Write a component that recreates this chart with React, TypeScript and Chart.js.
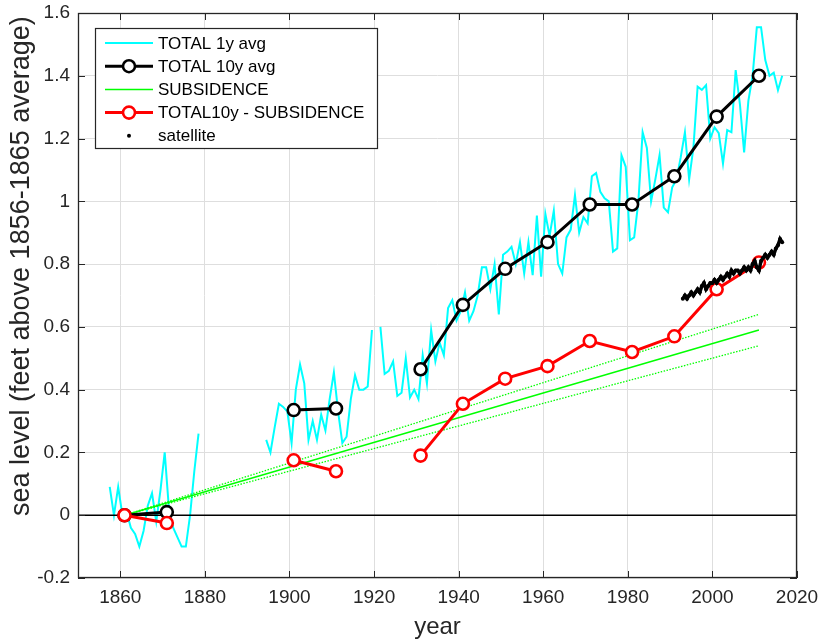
import React, { useEffect, useRef } from "react";
import { Chart, registerables } from "chart.js";

Chart.register(...registerables);

// ---------- DATA ----------
const xTickValues = [1860, 1880, 1900, 1920, 1940, 1960, 1980, 2000, 2020];
const yTickValues = [-0.2, 0, 0.2, 0.4, 0.6, 0.8, 1.0, 1.2, 1.4, 1.6];

// TOTAL 1y avg (annual means, plotted at mid-year)
const annual1Start = 1857;
const annual1 = [
  0.09, 0.0, 0.09, 0.0, 0.01, -0.04, -0.06, -0.1, -0.05, 0.03, 0.07, -0.02,
  0.08, 0.2, 0.02, -0.04, -0.07, -0.1, -0.1, 0.0, 0.14, 0.26,
];
const annual2Start = 1894;
const annual2 = [
  0.24, 0.2, 0.28, 0.355, 0.345, 0.33, 0.23, 0.4, 0.48, 0.42, 0.24, 0.3, 0.24,
  0.32, 0.27, 0.37, 0.455, 0.33, 0.23, 0.25, 0.37, 0.446, 0.4, 0.4, 0.41, 0.59,
];
const annual3Start = 1921;
const annual3 = [
  0.6, 0.45, 0.46, 0.49, 0.38, 0.39, 0.5, 0.375, 0.4, 0.37, 0.51, 0.42, 0.59,
  0.49, 0.55, 0.51, 0.66, 0.685, 0.62, 0.65, 0.71, 0.62, 0.65, 0.7, 0.79, 0.79,
  0.72, 0.8, 0.64, 0.83, 0.84, 0.855, 0.8, 0.87, 0.77, 0.87, 0.765, 0.955, 0.76,
  0.96, 0.89, 0.97, 0.8, 0.77, 0.885, 0.91, 1.02, 0.9, 0.95, 0.93, 1.08, 1.09,
  1.03, 1.01, 1.0, 0.84, 0.85, 1.147, 1.11, 0.876, 0.885, 1.0, 1.22, 1.17, 1.0,
  1.07, 1.147, 0.98, 0.965, 1.045, 1.07, 1.14, 1.22, 1.07, 1.17, 1.365, 1.355,
  1.37, 1.2, 1.236, 1.217, 1.12, 1.227, 1.22, 1.418, 1.31, 1.156, 1.32, 1.4,
  1.555, 1.555, 1.45, 1.4, 1.41, 1.354, 1.4,
];

// TOTAL 10y avg
const decadeYears1 = [1861, 1871];
const decadeYears2 = [1901, 1911];
const decadeYears3 = [1931, 1941, 1951, 1961, 1971, 1981, 1991, 2001, 2011];
const total10y1 = [0.0, 0.01];
const total10y2 = [0.335, 0.34];
const total10y3 = [0.465, 0.67, 0.785, 0.87, 0.99, 0.99, 1.08, 1.27, 1.4];

// TOTAL10y - SUBSIDENCE
const minusSub1 = [0.0, -0.025];
const minusSub2 = [0.175, 0.14];
const minusSub3 = [0.19, 0.355, 0.435, 0.475, 0.555, 0.52, 0.57, 0.72, 0.805];

// SUBSIDENCE trend and its bounds
const subsidenceYears = [1861, 2011];
const subsidence = [0.0, 0.59];
const subsidenceUpper = [0.0, 0.64];
const subsidenceLower = [0.0, 0.54];

// satellite (half-year samples)
const satelliteStart = 1993;
const satelliteStep = 0.5;
const satellite = [
  0.69, 0.7, 0.69, 0.7, 0.71, 0.7, 0.71, 0.72, 0.71, 0.73, 0.74, 0.72, 0.73,
  0.74, 0.74, 0.75, 0.74, 0.75, 0.76, 0.75, 0.76, 0.77, 0.76, 0.78, 0.77, 0.78,
  0.78, 0.77, 0.78, 0.79, 0.78, 0.79, 0.78, 0.8, 0.81, 0.79, 0.78, 0.81, 0.82,
  0.83, 0.82, 0.83, 0.84, 0.83, 0.85, 0.86, 0.88, 0.87,
];

const zeroLineYears = [1850, 2020];
const zeroLine = [0, 0];

const legendLabels = [
  "TOTAL 1y avg",
  "TOTAL 10y avg",
  "SUBSIDENCE",
  "TOTAL10y - SUBSIDENCE",
  "satellite",
];
const yTitle = "sea level (feet above 1856-1865 average)";
const xTitle = "year";

// ---------- helpers ----------
type P = { x: number; y: number | null };
const seg = (xs: number[], ys: number[]): P[] => xs.map((x, i) => ({ x, y: ys[i] }));
const annualSeg = (start: number, vals: number[]): P[] =>
  vals.map((v, i) => ({ x: start + i + 0.5, y: v }));
const joinSegs = (...segs: P[][]): P[] => {
  const out: P[] = [];
  segs.forEach((s, k) => {
    if (k > 0) {
      const prev = out[out.length - 1].x;
      out.push({ x: (prev + s[0].x) / 2, y: null });
    }
    out.push(...s);
  });
  return out;
};

const FONT = "'Liberation Sans', Arial, Helvetica, sans-serif";
const AXIS_COLOR = "#262626";

const boxPlugin = {
  id: "matlabBox",
  afterDatasetsDraw(chart: any) {
    const { ctx, chartArea: a, scales } = chart;
    ctx.save();
    ctx.strokeStyle = AXIS_COLOR;
    ctx.lineWidth = 1;
    const tl = 7;
    ctx.beginPath();
    scales.x.ticks.forEach((t: any) => {
      const px = Math.round(scales.x.getPixelForValue(t.value)) + 0.5;
      ctx.moveTo(px, a.bottom);
      ctx.lineTo(px, a.bottom - tl);
      ctx.moveTo(px, a.top);
      ctx.lineTo(px, a.top + tl);
    });
    scales.y.ticks.forEach((t: any) => {
      const py = Math.round(scales.y.getPixelForValue(t.value)) + 0.5;
      ctx.moveTo(a.left, py);
      ctx.lineTo(a.left + tl, py);
      ctx.moveTo(a.right, py);
      ctx.lineTo(a.right - tl, py);
    });
    ctx.stroke();
    ctx.lineWidth = 1.3;
    ctx.strokeRect(a.left + 0.5, a.top + 0.5, a.right - a.left - 1, a.bottom - a.top - 1);

    // y-axis title
    ctx.fillStyle = AXIS_COLOR;
    ctx.font = `27px ${FONT}`;
    ctx.textAlign = "center";
    ctx.textBaseline = "middle";
    ctx.translate(22, a.top + (a.bottom - a.top) * 0.448);
    ctx.rotate(-Math.PI / 2);
    ctx.fillText(yTitle, 0, 0);
    ctx.restore();
  },
};

const legendPlugin = {
  id: "matlabLegend",
  afterDraw(chart: any) {
    const { ctx, chartArea: a } = chart;
    const order: number[] = chart.options.plugins.matlabLegend.order;
    const x0 = a.left + 17;
    const y0 = a.top + 15;
    const w = 282;
    const h = 120;
    ctx.save();
    ctx.fillStyle = "#ffffff";
    ctx.fillRect(x0, y0, w, h);
    ctx.strokeStyle = AXIS_COLOR;
    ctx.lineWidth = 1.2;
    ctx.strokeRect(x0 + 0.5, y0 + 0.5, w, h);
    order.forEach((di, i) => {
      const ds = chart.data.datasets[di];
      const cy = y0 + 15 + i * 23.2;
      const lx1 = x0 + 10;
      const lx2 = x0 + 58;
      const mx = (lx1 + lx2) / 2;
      if (ds.legendLine !== false) {
        ctx.beginPath();
        ctx.setLineDash([]);
        ctx.strokeStyle = ds.borderColor;
        ctx.lineWidth = ds.borderWidth;
        ctx.moveTo(lx1, cy);
        ctx.lineTo(lx2, cy);
        ctx.stroke();
      }
      if (ds.pointRadius > 2.5) {
        ctx.beginPath();
        ctx.arc(mx, cy, ds.pointRadius, 0, Math.PI * 2);
        ctx.fillStyle = "#ffffff";
        ctx.fill();
        ctx.lineWidth = ds.pointBorderWidth;
        ctx.strokeStyle = ds.pointBorderColor;
        ctx.stroke();
      } else if (ds.legendLine === false) {
        ctx.beginPath();
        ctx.arc(mx, cy, 2, 0, Math.PI * 2);
        ctx.fillStyle = "#000000";
        ctx.fill();
      }
      ctx.fillStyle = "#000000";
      ctx.font = `17px ${FONT}`;
      ctx.textBaseline = "middle";
      ctx.textAlign = "left";
      ctx.fillText(legendLabels[i], x0 + 63, cy + 1);
    });
    ctx.restore();
  },
};

export default function App() {
  const ref = useRef<HTMLCanvasElement | null>(null);

  useEffect(() => {
    if (!ref.current) return;

    const cyanData = joinSegs(
      annualSeg(annual1Start, annual1),
      annualSeg(annual2Start, annual2),
      annualSeg(annual3Start, annual3)
    );
    const blackData = joinSegs(
      seg(decadeYears1, total10y1),
      seg(decadeYears2, total10y2),
      seg(decadeYears3, total10y3)
    );
    const redData = joinSegs(
      seg(decadeYears1, minusSub1),
      seg(decadeYears2, minusSub2),
      seg(decadeYears3, minusSub3)
    );
    const satData = satellite.map((v, i) => ({ x: satelliteStart + i * satelliteStep, y: v }));

    const chart = new Chart(ref.current, {
      type: "line",
      data: {
        datasets: [
          {
            label: "satellite",
            data: satData,
            borderColor: "#000000",
            backgroundColor: "#000000",
            borderWidth: 3.5,
            pointRadius: 2,
            pointBorderWidth: 0,
            pointBackgroundColor: "#000000",
            legendLine: false,
          } as any,
          {
            label: "TOTAL10y - SUBSIDENCE",
            data: redData,
            borderColor: "#FF0000",
            borderWidth: 3,
            pointRadius: 6,
            pointBorderWidth: 2.6,
            pointBorderColor: "#FF0000",
            pointBackgroundColor: "#FFFFFF",
          },
          {
            label: "TOTAL 10y avg",
            data: blackData,
            borderColor: "#000000",
            borderWidth: 3,
            pointRadius: 6,
            pointBorderWidth: 2.6,
            pointBorderColor: "#000000",
            pointBackgroundColor: "#FFFFFF",
          },
          {
            label: "SUBSIDENCE",
            data: seg(subsidenceYears, subsidence),
            borderColor: "#00FF00",
            borderWidth: 1.5,
            pointRadius: 0,
          },
          {
            label: "upper",
            data: seg(subsidenceYears, subsidenceUpper),
            borderColor: "#00FF00",
            borderWidth: 1.3,
            borderDash: [1.5, 1.5],
            pointRadius: 0,
          },
          {
            label: "lower",
            data: seg(subsidenceYears, subsidenceLower),
            borderColor: "#00FF00",
            borderWidth: 1.3,
            borderDash: [1.5, 1.5],
            pointRadius: 0,
          },
          {
            label: "zero",
            data: seg(zeroLineYears, zeroLine),
            borderColor: "#000000",
            borderWidth: 1.5,
            pointRadius: 0,
          },
          {
            label: "TOTAL 1y avg",
            data: cyanData,
            borderColor: "#00FFFF",
            borderWidth: 2,
            pointRadius: 0,
          },
        ],
      },
      options: {
        animation: false,
        responsive: false,
        events: [],
        layout: { padding: { top: 13, right: 21, left: 0, bottom: 0 } },
        elements: { line: { tension: 0 } },
        plugins: {
          legend: { display: false },
          tooltip: { enabled: false },
          matlabLegend: { order: [7, 2, 3, 1, 0] },
        } as any,
        scales: {
          x: {
            type: "linear",
            min: 1850,
            max: 2020,
            afterBuildTicks: (scale: any) => {
              scale.ticks = xTickValues.map((v) => ({ value: v }));
            },
            afterFit: (scale: any) => {
              scale.height = 64;
              scale.paddingLeft = 0;
              scale.paddingRight = 0;
            },
            grid: { color: "#dedede", lineWidth: 1, drawTicks: false },
            border: { display: false },
            ticks: {
              padding: 8,
              color: AXIS_COLOR,
              font: { family: FONT, size: 19 },
              maxRotation: 0,
              autoSkip: false,
              callback: (v: any) => String(v),
            },
            title: {
              display: true,
              text: xTitle,
              color: AXIS_COLOR,
              font: { family: FONT, size: 24 },
              padding: { top: 0, bottom: 0 },
            },
          },
          y: {
            type: "linear",
            min: -0.2,
            max: 1.6,
            afterBuildTicks: (scale: any) => {
              scale.ticks = yTickValues.map((v) => ({ value: v }));
            },
            afterFit: (scale: any) => {
              scale.width = 78;
              scale.paddingTop = 0;
              scale.paddingBottom = 0;
            },
            grid: { color: "#dedede", lineWidth: 1, drawTicks: false },
            border: { display: false },
            ticks: {
              padding: 8,
              color: AXIS_COLOR,
              font: { family: FONT, size: 19 },
              autoSkip: false,
              callback: (v: any) => String(+Number(v).toFixed(1)),
            },
          },
        },
      },
      plugins: [boxPlugin, legendPlugin],
    });

    return () => chart.destroy();
  }, []);

  return (
    <div style={{ position: "absolute", left: 0, top: 0, width: 818, height: 642, background: "#fff" }}>
      <canvas ref={ref} width={818} height={642} style={{ display: "block" }} />
    </div>
  );
}
